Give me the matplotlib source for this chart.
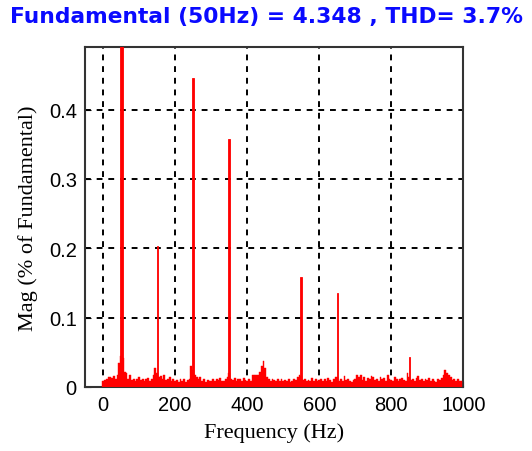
import numpy as np
from matplotlib import pyplot as plt

# noise floor, every 5 Hz from 0 to 995 Hz (x 0.001)
noise_freq = np.arange(0, 1000, 5)
noise_mag = np.array([
	8, 10, 12, 14, 15, 13, 16, 12, 18, 35, 45, 42, 22, 20, 12, 18, 10, 12, 9, 11,
	14, 10, 12, 9, 11, 13, 8, 12, 18, 28, 20, 14, 16, 12, 18, 10, 12, 15, 9, 11,
	8, 10, 7, 12, 9, 11, 7, 10, 12, 30, 25, 18, 15, 12, 14, 9, 11, 7, 10, 8,
	9, 11, 8, 12, 10, 13, 9, 8, 12, 14, 20, 12, 10, 13, 9, 11, 12, 9, 13, 10,
	9, 11, 8, 17, 17, 18, 18, 22, 30, 38, 28, 14, 12, 9, 12, 10, 8, 11, 9, 12,
	8, 10, 9, 11, 7, 9, 12, 10, 14, 18, 16, 10, 12, 8, 10, 9, 13, 8, 11, 9,
	10, 12, 8, 11, 9, 13, 10, 7, 11, 14, 15, 9, 11, 8, 16, 10, 12, 9, 7, 10,
	12, 17, 14, 18, 10, 15, 9, 13, 11, 16, 14, 10, 12, 8, 14, 11, 13, 9, 17, 12,
	10, 8, 15, 12, 9, 11, 13, 10, 9, 20, 14, 10, 12, 8, 13, 16, 10, 12, 9, 11,
	10, 13, 8, 11, 9, 7, 12, 10, 13, 18, 24, 20, 17, 14, 10, 12, 9, 11, 8, 9,
]) / 1000

# harmonics
harm_freq = [50, 150, 250, 350, 550, 650, 850]
harm_mag = [100, 0.203, 0.445, 0.358, 0.158, 0.135, 0.043]
harm_width = [8, 3, 4, 7, 5, 3, 3]

x_ticks = [0, 200, 400, 600, 800, 1000]
y_ticks = [0, 0.1, 0.2, 0.3, 0.4]

fig = plt.figure(figsize=(5.32, 4.52), dpi=100)
ax = fig.add_axes([0.160, 0.1416, 0.711, 0.752])

ax.bar(noise_freq, noise_mag, width=5, color='#ff0000', edgecolor='#ff0000',
	linewidth=0.3, zorder=3)
ax.bar(harm_freq, harm_mag, width=harm_width, color='#ff0000', edgecolor='#ff0000',
	linewidth=0.6, zorder=3)

ax.set_xlim(-50, 1000)
ax.set_ylim(0, 0.49)
ax.set_xticks(x_ticks)
ax.set_yticks(y_ticks)
ax.set_yticklabels(['0', '0.1', '0.2', '0.3', '0.4'])
ax.tick_params(direction='in', length=4, labelsize=14.5, pad=6)
for lab in ax.get_xticklabels() + ax.get_yticklabels():
	lab.set_family('Liberation Sans')

ax.grid(True, color='black', linestyle=(0, (3, 3)), linewidth=1.4, zorder=1)
ax.set_axisbelow(True)
for s in ax.spines.values():
	s.set_linewidth(1.5)
	s.set_color('#333333')

ax.set_xlabel('Frequency (Hz)', family='Liberation Serif', fontsize=16, labelpad=6)
ax.set_ylabel('Mag (% of Fundamental)', family='Liberation Serif', fontsize=16, labelpad=8)

fig.text(0.5, 0.962, 'Fundamental (50Hz) = 4.348 , THD= 3.7%', ha='center', va='center',
	fontsize=15.7, fontweight='bold', color='#0a0aff', family='DejaVu Sans')

plt.savefig('out.png')
